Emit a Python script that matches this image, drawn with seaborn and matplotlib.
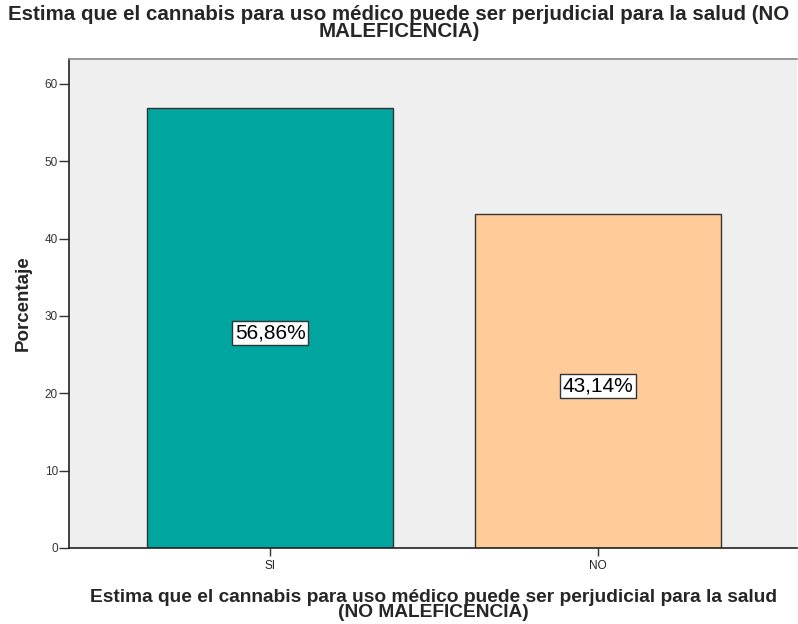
import matplotlib
matplotlib.use("Agg")
import matplotlib.pyplot as plt
import seaborn as sns
import pandas as pd

categories = ["SI", "NO"]
percentages = [56.86, 43.14]
bar_colors = ["#00A5A0", "#FFCC99"]
y_ticks = [0, 10, 20, 30, 40, 50, 60]

title = "Estima que el cannabis para uso médico puede ser perjudicial para la salud (NO\nMALEFICENCIA)"
x_title = "Estima que el cannabis para uso médico puede ser perjudicial para la salud\n(NO MALEFICENCIA)"

sns.set_theme(style="white")
plt.rcParams["font.family"] = ["Liberation Sans", "DejaVu Sans"]

df = pd.DataFrame({"respuesta": categories, "porcentaje": percentages})

fig = plt.figure(figsize=(7.98, 6.24), dpi=100)
ax = fig.add_axes([0.0865, 0.1218, 0.9125, 0.7836])
ax.set_facecolor("#EFEFEF")

sns.barplot(data=df, x="respuesta", y="porcentaje", hue="respuesta",
            palette=bar_colors, saturation=1, width=0.75, edgecolor="#333333",
            linewidth=1.0, legend=False, ax=ax)

ax.set_xlim(-0.613, 1.607)
ax.set_ylim(0, 63.2)
ax.set_yticks(y_ticks)
ax.tick_params(axis="y", direction="out", length=7, width=1, color="#333333",
               labelsize=8.5, labelcolor="#333333", pad=1, left=True)
ax.tick_params(axis="x", direction="out", length=6, width=1, color="#333333",
               labelsize=8.5, labelcolor="#222222", pad=3, bottom=True)

for side in ["left", "bottom"]:
    ax.spines[side].set_color("#222222")
    ax.spines[side].set_linewidth(1.2)
ax.spines["top"].set_color("#888888")
ax.spines["top"].set_linewidth(1.2)
ax.spines["right"].set_visible(False)

for i, v in enumerate(percentages):
    ax.text(i, v / 2 - 0.6, f"{v:.2f}%".replace(".", ","),
            ha="center", va="center", fontsize=15, color="black",
            bbox=dict(boxstyle="square,pad=0.12", facecolor="white",
                      edgecolor="#333333", linewidth=1.0))

ax.set_ylabel("Porcentaje", fontsize=13.5, fontweight="bold", labelpad=9.5)
ax.set_xlabel(x_title, fontsize=13.8, fontweight="bold", labelpad=12,
              linespacing=0.85)
fig.suptitle(title, x=0.5, y=0.992, fontsize=14.8, fontweight="bold",
             linespacing=0.85, va="top")

fig.savefig("out.png", dpi=100)
